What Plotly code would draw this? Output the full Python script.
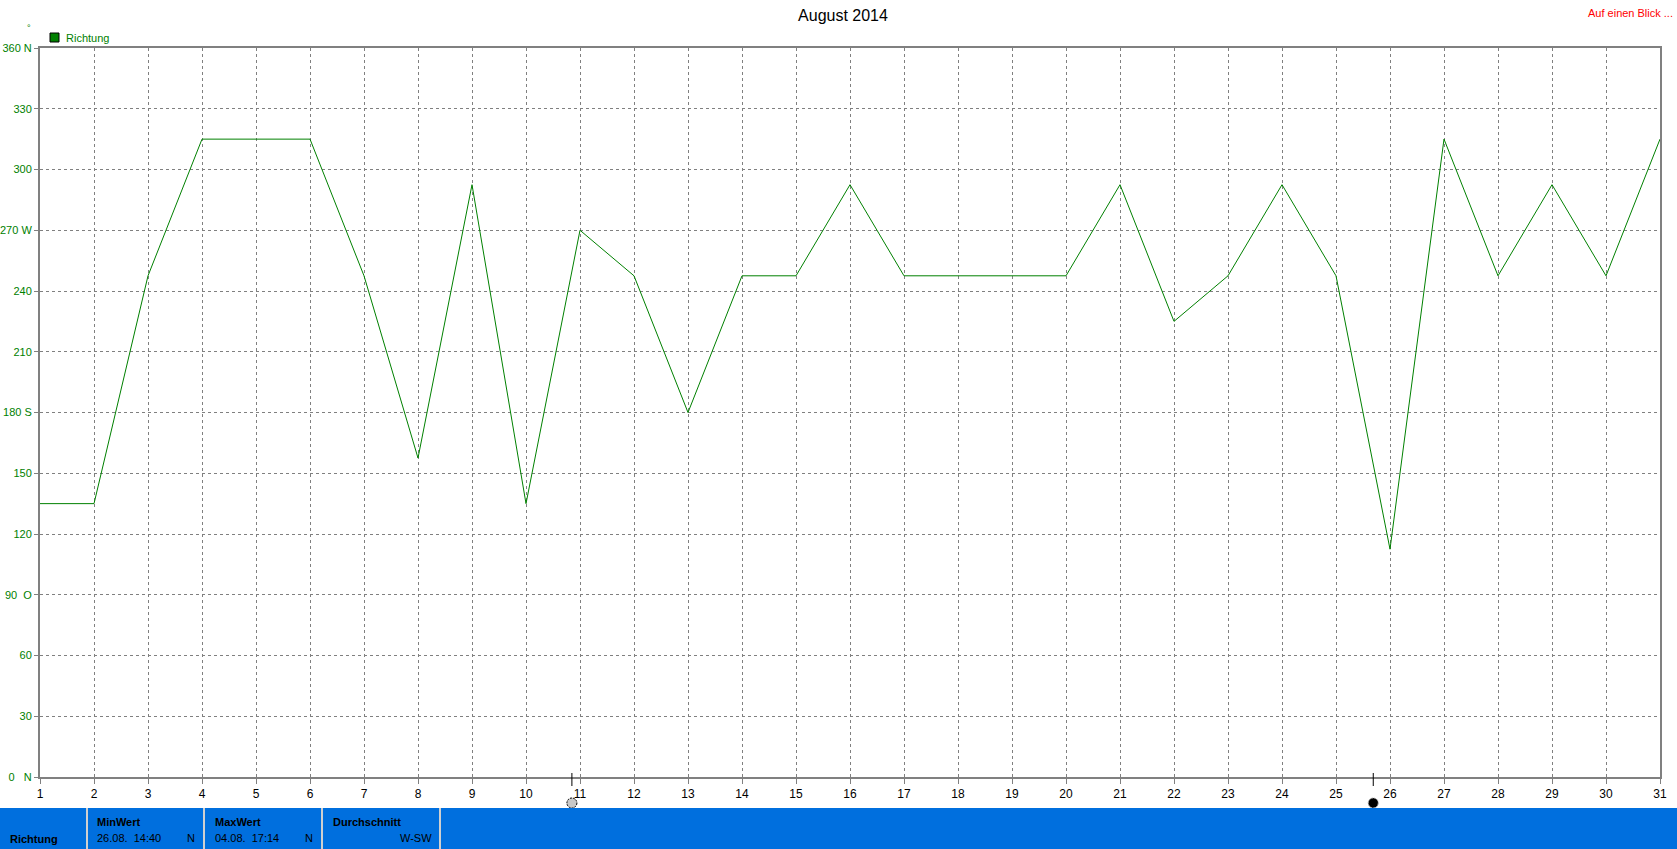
import plotly.graph_objects as go

# ---- data ----
days = list(range(1, 32))
direction = [135, 135, 247.5, 315, 315, 315, 247.5, 157.5, 292.5, 135,
             270, 247.5, 180, 247.5, 247.5, 292.5, 247.5, 247.5, 247.5, 247.5,
             292.5, 225, 247.5, 292.5, 247.5, 112.5, 315, 247.5, 292.5, 247.5,
             315]
y_tickvals = [0, 30, 60, 90, 120, 150, 180, 210, 240, 270, 300, 330, 360]
y_ticktext = ["0\u00a0\u00a0\u00a0N", "30", "60", "90\u00a0\u00a0O", "120", "150", "180\u00a0S",
              "210", "240", "270\u00a0W", "300", "330", "360\u00a0N"]
moon_days = [10.85, 25.69]
moon_kinds = ["full", "new"]
series_name = "Richtung"
stats_headers = ["MinWert", "MaxWert", "Durchschnitt"]
stats_values = ["26.08.\u00a0\u00a014:40", "04.08.\u00a0\u00a017:14", ""]
stats_dirs = ["N", "N", "W-SW"]

W, H = 1677, 849
L, R, T, B = 40, 1660, 48, 777
FONT = "Liberation Sans, Arial, sans-serif"
GREEN = "#008000"
GREY = "#808080"


def px(xp):
    return (xp - L) / (R - L)


def py(yp):
    return (B - yp) / (B - T)


fig = go.Figure()
fig.add_trace(go.Scatter(x=days, y=direction, mode="lines",
                         line=dict(color=GREEN, width=1), name=series_name,
                         showlegend=False, hoverinfo="x+y"))

shapes = []
annotations = []

# legend
shapes.append(dict(type="rect", xref="paper", yref="paper",
                   x0=px(50), x1=px(59), y0=py(42), y1=py(33),
                   fillcolor=GREEN, line=dict(color="black", width=1)))
annotations.append(dict(xref="paper", yref="paper", x=px(64), y=py(38),
                        text=series_name, showarrow=False, xanchor="left",
                        yanchor="middle", font=dict(family=FONT, size=11, color=GREEN)))
annotations.append(dict(xref="paper", yref="paper", x=px(29), y=py(28),
                        text="°", showarrow=False, xanchor="center",
                        yanchor="middle", font=dict(family=FONT, size=9, color=GREEN)))
annotations.append(dict(xref="paper", yref="paper", x=px(1675), y=py(13),
                        text="Auf einen Blick ...", showarrow=False, xanchor="right",
                        yanchor="middle", font=dict(family=FONT, size=11, color="red")))

# moon markers
for d, k in zip(moon_days, moon_kinds):
    shapes.append(dict(type="line", xref="x", yref="paper", x0=d, x1=d,
                       y0=py(773), y1=py(786), line=dict(color="black", width=1)))
    if k == "full":
        shapes.append(dict(type="circle", xref="x", yref="paper",
                           xsizemode="pixel", ysizemode="pixel",
                           xanchor=d, yanchor=py(803),
                           x0=-5, x1=5, y0=-5, y1=5,
                           fillcolor="#c8c8c8", line=dict(color="black", width=1, dash="2px,1px")))
    else:
        shapes.append(dict(type="circle", xref="x", yref="paper",
                           xsizemode="pixel", ysizemode="pixel",
                           xanchor=d, yanchor=py(803),
                           x0=-5, x1=5, y0=-5, y1=5,
                           fillcolor="black", line=dict(color="#aaaaaa", width=1, dash="2px,1px")))

# bottom status bar
shapes.append(dict(type="rect", xref="paper", yref="paper", x0=px(0), x1=px(W + 2),
                   y0=py(H + 2), y1=py(808), fillcolor="#006FDE", line=dict(width=0),
                   layer="above"))
for sx in [87, 204, 322, 440]:
    shapes.append(dict(type="line", xref="paper", yref="paper", x0=px(sx), x1=px(sx),
                       y0=py(H + 2), y1=py(808), line=dict(color="#d0d0d0", width=2)))

annotations.append(dict(xref="paper", yref="paper", x=px(8), y=py(839),
                        text="<b>" + series_name + "</b>", showarrow=False, xanchor="left",
                        yanchor="middle", font=dict(family=FONT, size=11, color="black")))
cell_left = [95, 213, 331]
cell_right = [197, 315, 434]
for i in range(3):
    annotations.append(dict(xref="paper", yref="paper", x=px(cell_left[i]), y=py(822),
                            text="<b>" + stats_headers[i] + "</b>", showarrow=False,
                            xanchor="left", yanchor="middle",
                            font=dict(family=FONT, size=11, color="black")))
    if stats_values[i]:
        annotations.append(dict(xref="paper", yref="paper", x=px(cell_left[i]), y=py(838),
                                text=stats_values[i], showarrow=False,
                                xanchor="left", yanchor="middle",
                                font=dict(family=FONT, size=11, color="black")))
    annotations.append(dict(xref="paper", yref="paper", x=px(cell_right[i]), y=py(838),
                            text=stats_dirs[i], showarrow=False,
                            xanchor="right", yanchor="middle",
                            font=dict(family=FONT, size=11, color="black")))

fig.update_layout(
    width=W, height=H,
    margin=dict(l=L, r=W - R, t=T, b=H - B, pad=0, autoexpand=False),
    paper_bgcolor="white", plot_bgcolor="white",
    title=dict(text="August 2014", x=px(843), xref="paper", xanchor="center",
               y=1 - 15 / H, yanchor="middle", automargin=False,
               font=dict(family=FONT, size=16, color="black")),
    showlegend=False,
    shapes=shapes, annotations=annotations,
    xaxis=dict(range=[1, 31], tickvals=days, ticktext=[str(d) for d in days],
               showgrid=True, gridcolor=GREY, griddash="3px,3px", gridwidth=1,
               showline=True, linecolor=GREY, linewidth=2, mirror=True,
               ticks="outside", ticklen=5, tickcolor=GREY, tickwidth=1,
               tickfont=dict(family=FONT, size=12, color="black"),
               zeroline=False, fixedrange=True, automargin=False),
    yaxis=dict(range=[0, 360], tickvals=y_tickvals, ticktext=y_ticktext,
               showgrid=True, gridcolor=GREY, griddash="3px,3px", gridwidth=1,
               showline=True, linecolor=GREY, linewidth=2, mirror=True,
               ticks="outside", ticklen=4, tickcolor=GREY, tickwidth=1,
               tickfont=dict(family=FONT, size=11, color=GREEN),
               zeroline=False, fixedrange=True, automargin=False),
)

fig.write_html("out.html", config={"displayModeBar": False},
               post_script="document.body.style.margin='0';document.body.style.overflow='hidden';")
